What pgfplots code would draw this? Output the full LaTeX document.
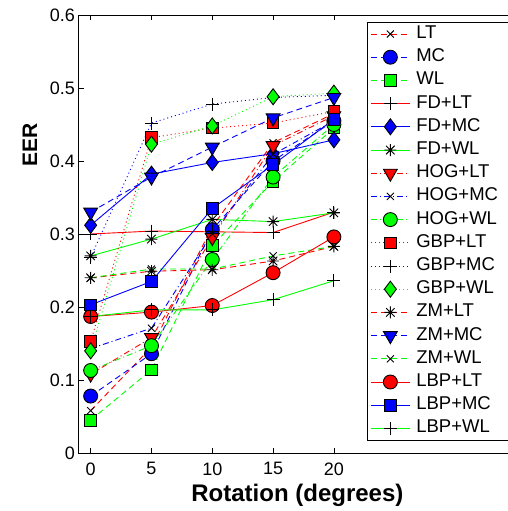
\documentclass[border=0pt]{standalone}
\usepackage{fontspec}
\setmainfont{Liberation Sans}
\usepackage{pgfplots}
\pgfplotsset{compat=1.18}
\definecolor{mred}{rgb}{1,0,0}
\definecolor{mblue}{rgb}{0,0,1}
\definecolor{mgreen}{rgb}{0,1,0}
\newcommand{\lgd}[1]{\makebox[92pt][l]{#1}}
\pgfdeclareplotmark{mast}{%
  \pgfpathmoveto{\pgfqpoint{-\pgfplotmarksize}{0pt}}\pgfpathlineto{\pgfqpoint{\pgfplotmarksize}{0pt}}%
  \pgfpathmoveto{\pgfqpoint{0pt}{-\pgfplotmarksize}}\pgfpathlineto{\pgfqpoint{0pt}{\pgfplotmarksize}}%
  \pgfpathmoveto{\pgfqpoint{-.7071\pgfplotmarksize}{-.7071\pgfplotmarksize}}\pgfpathlineto{\pgfqpoint{.7071\pgfplotmarksize}{.7071\pgfplotmarksize}}%
  \pgfpathmoveto{\pgfqpoint{-.7071\pgfplotmarksize}{.7071\pgfplotmarksize}}\pgfpathlineto{\pgfqpoint{.7071\pgfplotmarksize}{-.7071\pgfplotmarksize}}%
  \pgfusepathqstroke}
\pgfplotsset{
  mdash/.style={dash pattern=on 6pt off 4pt},
  mdot/.style={dash pattern=on 1pt off 3pt},
  mdashdot/.style={dash pattern=on 6pt off 3pt on 1pt off 3pt},
  ser/.style={line width=0.9pt},
}
\begin{document}
\begin{tikzpicture}
\begin{axis}[
  scale only axis, width=437.8pt, height=438pt,
  xmin=-1, xmax=35, ymin=0, ymax=0.6,
  xtick={0,5,10,15,20}, ytick={0,0.1,0.2,0.3,0.4,0.5,0.6},
  tick align=inside, tick pos=both, major tick length=5pt,
  axis line style={line width=0.8pt},
  every tick/.style={black, line width=0.6pt},
  ticklabel style={font=\fontsize{18}{18}\selectfont},
  xticklabel style={yshift=-6pt},
  /pgf/number format/assume math mode=true,
  xlabel={Rotation (degrees)}, ylabel={EER},
  xlabel style={font=\fontsize{24}{24}\selectfont\bfseries, at={(ticklabel cs:0.5,2pt)}},
  ylabel style={font=\fontsize{21}{21}\selectfont\bfseries, at={(ticklabel cs:0.703,6pt)}},
  legend cell align=left,
  legend style={at={(rel axis cs:0.659,0.984)}, anchor=north west,
    line width=0.8pt, inner xsep=3pt, inner ysep=0pt, row sep=0pt,
    font=\fontsize{18.5}{18.5}\selectfont,
    nodes={inner ysep=2.6pt, inner xsep=6pt, text height=13.5pt, text depth=4.5pt}},
  legend image code/.code={%
    \draw[#1, mark=none] (0pt,0pt) -- (39pt,0pt);
    \draw[#1] plot coordinates {(19.5pt,0pt)};},
]
\addplot[ser, draw=mred, mdash, mark=x, mark size=5pt, mark options={solid, draw=black}] coordinates {(0,0.058)(5,0.145)(10,0.31)(15,0.425)(20,0.465)};
\addlegendentry{\lgd{LT}}
\addplot[ser, draw=mblue, mdash, mark=*, mark size=7pt, mark options={solid, draw=black, fill=mblue}] coordinates {(0,0.078)(5,0.136)(10,0.306)(15,0.40)(20,0.455)};
\addlegendentry{\lgd{MC}}
\addplot[ser, draw=mgreen, mdash, mark=square*, mark size=5.8pt, mark options={solid, draw=black, fill=mgreen}] coordinates {(0,0.045)(5,0.114)(10,0.284)(15,0.372)(20,0.445)};
\addlegendentry{\lgd{WL}}
\addplot[ser, draw=mred, mark=+, mark size=6.5pt, mark options={solid, draw=black}] coordinates {(0,0.300)(5,0.304)(10,0.303)(15,0.302)(20,0.330)};
\addlegendentry{\lgd{FD+LT}}
\addplot[ser, draw=mblue, mark=diamond*, mark size=8pt, mark options={solid, draw=black, fill=mblue}] coordinates {(0,0.312)(5,0.382)(10,0.398)(15,0.41)(20,0.429)};
\addlegendentry{\lgd{FD+MC}}
\addplot[ser, draw=mgreen, mark=mast, mark size=6pt, mark options={solid, draw=black}] coordinates {(0,0.270)(5,0.293)(10,0.320)(15,0.317)(20,0.329)};
\addlegendentry{\lgd{FD+WL}}
\addplot[ser, draw=mred, mdashdot, mark=triangle*, mark size=8pt, mark options={solid, draw=black, fill=mred, rotate=180}] coordinates {(0,0.108)(5,0.158)(10,0.295)(15,0.421)(20,0.462)};
\addlegendentry{\lgd{HOG+LT}}
\addplot[ser, draw=mblue, mdashdot, mark=x, mark size=5pt, mark options={solid, draw=black}] coordinates {(0,0.143)(5,0.171)(10,0.30)(15,0.409)(20,0.455)};
\addlegendentry{\lgd{HOG+MC}}
\addplot[ser, draw=mgreen, mdashdot, mark=*, mark size=7pt, mark options={solid, draw=black, fill=mgreen}] coordinates {(0,0.113)(5,0.147)(10,0.265)(15,0.378)(20,0.450)};
\addlegendentry{\lgd{HOG+WL}}
\addplot[ser, draw=mred, mdot, mark=square*, mark size=5.8pt, mark options={solid, draw=black, fill=mred}] coordinates {(0,0.153)(5,0.432)(10,0.445)(15,0.452)(20,0.468)};
\addlegendentry{\lgd{GBP+LT}}
\addplot[ser, draw=mblue, mdot, mark=+, mark size=6.5pt, mark options={solid, draw=black}] coordinates {(0,0.268)(5,0.452)(10,0.478)(15,0.487)(20,0.490)};
\addlegendentry{\lgd{GBP+MC}}
\addplot[ser, draw=mgreen, mdot, mark=diamond*, mark size=8pt, mark options={solid, draw=black, fill=mgreen}] coordinates {(0,0.140)(5,0.423)(10,0.448)(15,0.488)(20,0.493)};
\addlegendentry{\lgd{GBP+WL}}
\addplot[ser, draw=mred, mdash, mark=mast, mark size=6pt, mark options={solid, draw=black}] coordinates {(0,0.240)(5,0.249)(10,0.251)(15,0.263)(20,0.283)};
\addlegendentry{\lgd{ZM+LT}}
\addplot[ser, draw=mblue, mdash, mark=triangle*, mark size=8pt, mark options={solid, draw=black, fill=mblue, rotate=180}] coordinates {(0,0.330)(5,0.378)(10,0.419)(15,0.459)(20,0.487)};
\addlegendentry{\lgd{ZM+MC}}
\addplot[ser, draw=mgreen, mdash, mark=x, mark size=5pt, mark options={solid, draw=black}] coordinates {(0,0.240)(5,0.252)(10,0.252)(15,0.270)(20,0.283)};
\addlegendentry{\lgd{ZM+WL}}
\addplot[ser, draw=mred, mark=*, mark size=7pt, mark options={solid, draw=black, fill=mred}] coordinates {(0,0.187)(5,0.193)(10,0.202)(15,0.247)(20,0.296)};
\addlegendentry{\lgd{LBP+LT}}
\addplot[ser, draw=mblue, mark=square*, mark size=5.8pt, mark options={solid, draw=black, fill=mblue}] coordinates {(0,0.203)(5,0.235)(10,0.335)(15,0.395)(20,0.457)};
\addlegendentry{\lgd{LBP+MC}}
\addplot[ser, draw=mgreen, mark=+, mark size=6.5pt, mark options={solid, draw=black}] coordinates {(0,0.187)(5,0.196)(10,0.196)(15,0.210)(20,0.236)};
\addlegendentry{\lgd{LBP+WL}}
\end{axis}
\pgfresetboundingbox
\path (current axis.south west) ++(-78.5pt,-58pt) rectangle ++(508pt,511pt);
\end{tikzpicture}
\end{document}
